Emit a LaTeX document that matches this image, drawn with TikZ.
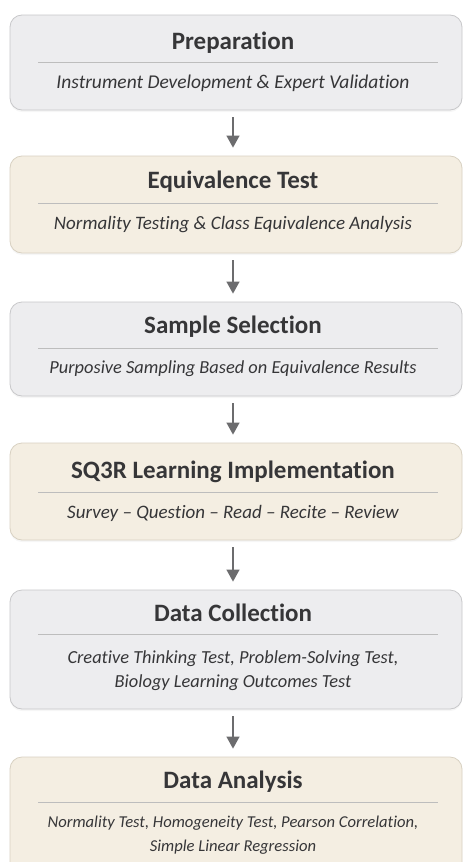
\documentclass[tikz,border=0pt]{standalone}
\usepackage{fontspec}
\setmainfont{Carlito}[Ligatures=CommonOff]
\usetikzlibrary{arrows.meta,shadows}
\definecolor{graybox}{HTML}{EDEDEF}
\definecolor{grayline}{HTML}{C8C8CA}
\definecolor{creambox}{HTML}{F4EEE2}
\definecolor{creamline}{HTML}{D8D1C2}
\definecolor{txt}{HTML}{363638}
\definecolor{sepc}{HTML}{BDBDBD}
\definecolor{arrc}{HTML}{6C6C6E}
\tikzset{
  basebox/.style={rounded corners=12pt, line width=0.8pt, minimum width=452pt, inner sep=0pt,
    drop shadow={shadow xshift=0pt, shadow yshift=-2pt, opacity=0.07}},
  gbox/.style={basebox, draw=grayline, fill=graybox},
  cbox/.style={basebox, draw=creamline, fill=creambox},
  ttl/.style={font=\bfseries\fontsize{25}{28}\selectfont, text=txt, inner sep=0pt},
  sub/.style={font=\itshape\fontsize{#1}{24.5}\selectfont, text=txt, align=center, inner sep=0pt},
  sub/.default=19,
  sepline/.style={draw=sepc, line width=0.8pt},
  flow/.style={draw=arrc, line width=1.2pt, -{Triangle[length=12pt,width=13pt]}, shorten <=7pt, shorten >=8pt}
}
\begin{document}
\begin{tikzpicture}[x=1pt,y=-1pt]
\useasboundingbox (0,0) rectangle (463,862);
\fill[white] (0,0) rectangle (463,862);
\clip (0,0) rectangle (463,862);
% box 1
\node[gbox, minimum height=95pt] (b1) at (236,62.5) {};
\node[ttl] (t1) at (233,43) {Preparation};
\draw[sepline] (38,62) -- (438,62);
\node[sub=19.5] (s1) at (233,83) {Instrument Development \& Expert Validation};
% box 2
\node[cbox, minimum height=97pt] (b2) at (236,204.5) {};
\node[ttl] (t2) at (233,182) {Equivalence Test};
\draw[sepline] (38,203) -- (438,203);
\node[sub=19] (s2) at (233,225) {Normality Testing \& Class Equivalence Analysis};
% box 3
\node[gbox, minimum height=94pt] (b3) at (236,349) {};
\node[ttl] (t3) at (233,327) {Sample Selection};
\draw[sepline] (38,348) -- (438,348);
\node[sub=18.4] (s3) at (233,369) {Purposive Sampling Based on Equivalence Results};
% box 4
\node[cbox, minimum height=97pt] (b4) at (236,491.5) {};
\node[ttl] (t4) at (233,472) {SQ3R Learning Implementation};
\draw[sepline] (38,492) -- (438,492);
\node[sub=19] (s4) at (233,513) {Survey -- Question -- Read -- Recite -- Review};
% box 5
\node[gbox, minimum height=119pt] (b5) at (236,649.5) {};
\node[ttl] (t5) at (233,613) {Data Collection};
\draw[sepline] (38,634) -- (438,634);
\node[sub=18.4] (s5) at (233,670.5) {Creative Thinking Test, Problem-Solving Test,\\Biology Learning Outcomes Test};
% box 6
\node[cbox, minimum height=130pt] (b6) at (236,822) {};
\node[ttl] (t6) at (233,782) {Data Analysis};
\draw[sepline] (38,802) -- (438,802);
\node[sub=16.6] (s6) at (233,835) {Normality Test, Homogeneity Test, Pearson Correlation,\\Simple Linear Regression};
% connectors
\draw[flow] (t1 |- b1.south) -- (t1 |- b2.north);
\draw[flow] (t2 |- b2.south) -- (t2 |- b3.north);
\draw[flow] (t3 |- b3.south) -- (t3 |- b4.north);
\draw[flow] (t4 |- b4.south) -- (t4 |- b5.north);
\draw[flow] (t5 |- b5.south) -- (t5 |- b6.north);
\end{tikzpicture}
\end{document}
